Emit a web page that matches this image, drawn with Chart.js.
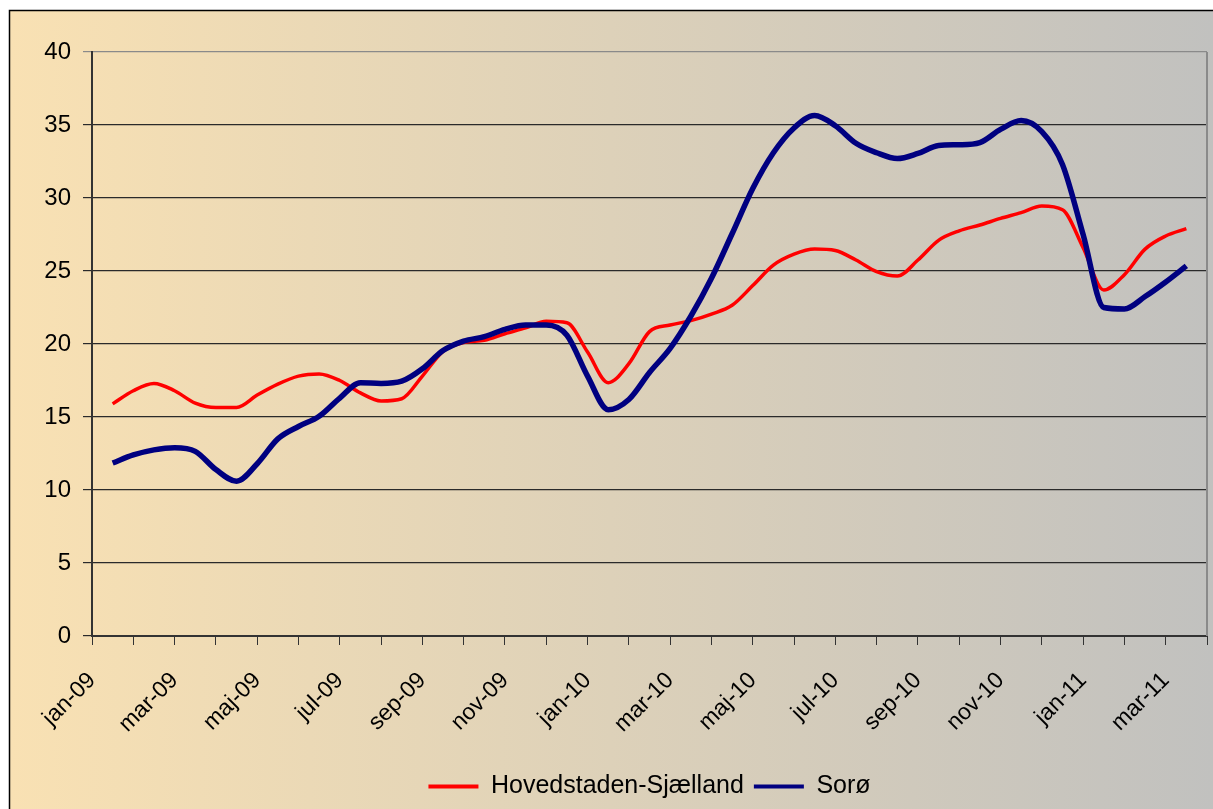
<!DOCTYPE html>
<html>
<head>
<meta charset="utf-8">
<script src="https://cdn.jsdelivr.net/npm/chart.js@4.4.1/dist/chart.umd.min.js"></script>
<style>
  html, body { margin: 0; padding: 0; background: #fff; }
  #wrap { width: 1213px; height: 809px; }
</style>
</head>
<body>
<div id="wrap"><canvas id="priceChart" width="1213" height="809"></canvas></div>
<script>

const chart_line = document.getElementById('priceChart');

// tick labels, one for every second month
const MONTH_LABELS = [
  'jan-09', 'mar-09', 'maj-09', 'jul-09', 'sep-09', 'nov-09',
  'jan-10', 'mar-10', 'maj-10', 'jul-10', 'sep-10', 'nov-10',
  'jan-11', 'mar-11'
];

// position of each reading, in months after 1 jan 2009
const POINT_MONTHS = [
  0.5, 1, 1.5, 2, 2.5, 3, 3.5, 4, 4.5, 5, 5.5, 6, 6.5, 7, 7.5, 8, 8.5, 9,
  9.5, 10, 10.5, 11, 11.5, 12, 12.5, 13, 13.5, 14, 14.5, 15, 15.5, 16, 16.5, 17,
  17.5, 18, 18.5, 19, 19.5, 20, 20.5, 21, 21.5, 22, 22.5, 23, 23.5, 24, 24.5, 25,
  25.5, 26, 26.5
];

const HOVEDSTADEN = [
  15.9, 16.8, 17.3, 16.8, 15.95, 15.65, 15.65, 16.5, 17.25, 17.8, 17.95, 17.5, 16.65, 16.1,
  16.25, 17.8, 19.5, 20.1, 20.25, 20.7, 21.1, 21.55, 21.45, 19.45, 17.35, 18.65, 20.85, 21.3,
  21.6, 22.05, 22.65, 24.0, 25.4, 26.15, 26.5, 26.4, 25.75, 24.95, 24.65, 25.75, 27.1, 27.75,
  28.15, 28.6, 29.0, 29.45, 29.2, 26.6, 23.7, 24.75, 26.5, 27.4, 27.9
];

const SORO = [
  11.85, 12.4, 12.75, 12.9, 12.65, 11.4, 10.6, 11.8, 13.5, 14.35, 15.05, 16.3, 17.35, 17.3,
  17.45, 18.3, 19.55, 20.2, 20.5, 21.0, 21.3, 21.3, 20.6, 17.8, 15.5, 16.2, 18.05, 19.7,
  21.9, 24.5, 27.55, 30.65, 33.1, 34.8, 35.65, 34.95, 33.75, 33.1, 32.7, 33.05, 33.6, 33.65,
  33.8, 34.7, 35.3, 34.55, 32.3, 27.5, 22.5, 22.4, 23.25, 24.25, 25.35
];

const FONT = '"Liberation Sans", Arial, sans-serif';

function to_points(values) {
  var pts = [];
  for (var i = 0; i < values.length; i++) {
    pts.push({ x: POINT_MONTHS[i], y: values[i] });
  }
  return pts;
}

// gradient background, outer frame and the grey right edge of the plot
const backdrop = {
  id: 'backdrop',
  beforeDraw(chart) {
    const ctx = chart.ctx;
    const w = chart.width, h = chart.height;
    ctx.save();
    ctx.fillStyle = '#ffffff';
    ctx.fillRect(0, 0, w, h);
    const g = ctx.createLinearGradient(9, 0, w, 0);
    g.addColorStop(0, '#F9E1B3');
    g.addColorStop(1, '#C1C1BF');
    ctx.fillStyle = g;
    ctx.fillRect(9, 10, w - 9, h - 10);
    ctx.strokeStyle = '#000';
    ctx.lineWidth = 1.5;
    ctx.strokeRect(9.5, 10.5, w + 5, h + 5);
    ctx.restore();
  },
  beforeDatasetsDraw(chart) {
    const a = chart.chartArea;
    const ctx = chart.ctx;
    ctx.save();
    ctx.strokeStyle = '#8a8a8a';
    ctx.lineWidth = 2;
    ctx.beginPath();
    ctx.moveTo(a.right, a.top);
    ctx.lineTo(a.right, a.bottom);
    ctx.stroke();
    ctx.restore();
  },
  afterLayout(chart) {
    // centre the legend under the plot area rather than the canvas
    const a = chart.chartArea;
    const shift = (a.left + a.right) / 2 - (chart.legend.left + chart.legend.right) / 2;
    chart.legend.left += shift;
    chart.legend.right += shift;
  }
};

const line_data = {
  datasets: [{
    label: 'Hovedstaden-Sjælland',
    data: to_points(HOVEDSTADEN),
    borderColor: '#FF0000',
    backgroundColor: '#FF0000',
    borderWidth: 3.5,
    pointRadius: 0,
    cubicInterpolationMode: 'monotone',
    order: 1
  }, {
    label: 'Sorø',
    data: to_points(SORO),
    borderColor: '#000080',
    backgroundColor: '#000080',
    borderWidth: 5.5,
    pointRadius: 0,
    cubicInterpolationMode: 'monotone',
    order: 0
  }]
};

const line_config = {
  type: 'line',
  data: line_data,
  plugins: [backdrop],
  options: {
    responsive: false,
    animation: false,
    layout: { padding: { top: 52, right: 6, left: 0, bottom: 0 } },
    plugins: {
      tooltip: { enabled: false },
      legend: {
        position: 'bottom',
        labels: {
          font: { family: FONT, size: 25 },
          color: '#000',
          boxWidth: 50,
          boxHeight: 4,
          padding: 10,
          sort: (a, b) => a.datasetIndex - b.datasetIndex,
          generateLabels: function(chart) {
            return chart.data.datasets.map(function(ds, i) {
              return {
                text: ds.label,
                fillStyle: ds.borderColor,
                strokeStyle: ds.borderColor,
                lineWidth: 0,
                datasetIndex: i,
                hidden: false
              };
            });
          }
        }
      }
    },
    scales: {
      x: {
        type: 'linear',
        min: 0,
        max: 27,
        offset: false,
        afterFit: function(scale) {
          scale.height = 128;
          scale.paddingLeft = 0;
          scale.paddingRight = 0;
        },
        grid: {
          drawOnChartArea: false,
          drawTicks: true,
          tickLength: 9,
          color: '#333'
        },
        border: { color: '#333', width: 2 },
        ticks: {
          stepSize: 1,
          autoSkip: false,
          minRotation: 45,
          maxRotation: 45,
          padding: 22,
          color: '#000',
          font: { family: FONT, size: 23 },
          callback: function(value) {
            if (value % 2 === 0 && value / 2 < MONTH_LABELS.length) {
              return MONTH_LABELS[value / 2];
            }
            return '';
          }
        }
      },
      y: {
        min: 0,
        max: 40,
        afterFit: function(scale) { scale.width = 92; },
        grid: {
          color: (ctx) => ctx.tick && ctx.tick.value === 40 ? '#8a8a8a' : '#2a2a2a',
          lineWidth: 1.2,
          tickLength: 9
        },
        border: { color: '#333', width: 2 },
        ticks: {
          stepSize: 5,
          padding: 12,
          color: '#000',
          font: { family: FONT, size: 24 }
        }
      }
    }
  }
};

const lineChart = new Chart(chart_line, line_config);

</script>
</body>
</html>
